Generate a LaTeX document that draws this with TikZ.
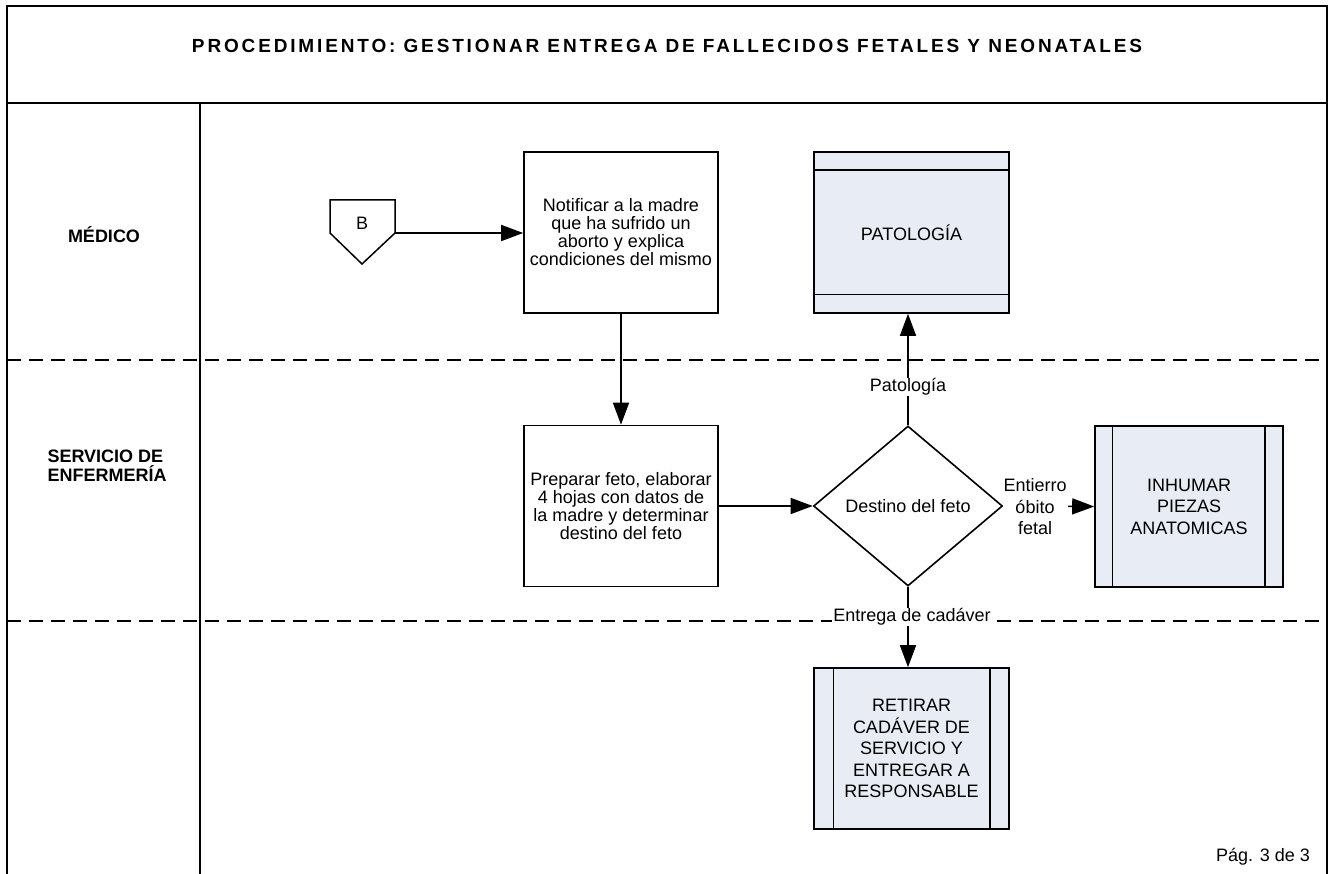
\documentclass[tikz,border=0pt]{standalone}
\usepackage{fontspec}
\setmainfont{Liberation Sans}
\usetikzlibrary{arrows.meta,shapes.geometric}
\definecolor{procfill}{RGB}{232,236,244}
\tikzset{
  every node/.style={font=\fontsize{18}{18}\selectfont},
  frame/.style={line width=1.6pt},
  lane/.style={line width=1.4pt, dash pattern=on 14pt off 8pt},
  stepbox/.style={draw, line width=1.6pt, minimum width=194pt, minimum height=161pt,
    align=center, inner sep=2pt, font=\fontsize{18}{18}\selectfont},
  subproc/.style={draw, line width=1.6pt, fill=procfill, align=center,
    font=\fontsize{18}{21.5}\selectfont},
  decision/.style={draw, line width=1.6pt, diamond, aspect=1.18, inner sep=0pt,
    minimum width=189pt, minimum height=160pt},
  flow/.style={line width=1.6pt, -{Triangle[length=22pt,width=16pt]}},
  tag/.style={fill=white, inner sep=1pt, align=center, font=\fontsize{18}{21.5}\selectfont},
  lanetitle/.style={font=\bfseries\fontsize{18}{19}\selectfont, align=left}
}
\begin{document}
\begin{tikzpicture}[x=1pt,y=-1pt]
\useasboundingbox (0,0) rectangle (1332,874);
\fill[white] (0,0) rectangle (1332,874);

% outer frame, title band and lane column
\draw[frame] (7,874) -- (7,6) -- (1327,6) -- (1327,874);
\draw[frame] (7,103) -- (1327,103);
\draw[frame] (200,103) -- (200,874);

% lane separators
\draw[lane] (7,360) -- (1327,360);
\draw[lane] (7,621) -- (1327,621);

% title and lane names
\node[font=\bfseries\fontsize{19}{19}\selectfont\addfontfeature{LetterSpace=15}] (title) at (667,46)
  {PROCEDIMIENTO: GESTIONAR ENTREGA DE FALLECIDOS FETALES Y NEONATALES};
\node[lanetitle] (lmed) at (104,235) {MÉDICO};
\node[lanetitle, anchor=west] (lenf) at (44,466) {SERVICIO DE\\ENFERMERÍA};
\node (page) at (1263,857) {Pág. 3 de 3};

% off-page connector B
\draw[line width=1.5pt] (330,200) -- (395,200) -- (395,233) -- (362,264) -- (330,233) -- cycle;
\node (B) at (362,223) {B};
\coordinate (Bout) at (395,233);

% process steps
\node[stepbox] (notif) at (621,232.5)
  {Notificar a la madre\\que ha sufrido un\\aborto y explica\\condiciones del mismo};
\node[stepbox] (prep) at (621,506)
  {Preparar feto, elaborar\\4 hojas con datos de\\la madre y determinar\\destino del feto};

% decision
\node[decision] (dest) at (908,506) {Destino del feto};

% predefined processes
\node[subproc, minimum width=195pt, minimum height=161pt] (pato) at (911.5,232.5) {PATOLOGÍA};
\draw[line width=1.4pt] ([yshift=-19pt]pato.north west) -- ([yshift=-19pt]pato.north east);
\draw[line width=1.4pt] ([yshift=19pt]pato.south west) -- ([yshift=19pt]pato.south east);

\node[subproc, minimum width=188pt, minimum height=161pt] (inhum) at (1189,506.5)
  {INHUMAR\\PIEZAS\\ANATOMICAS};
\draw[line width=1.4pt] ([xshift=18pt]inhum.north west) -- ([xshift=18pt]inhum.south west);
\draw[line width=1.4pt] ([xshift=-19pt]inhum.north east) -- ([xshift=-19pt]inhum.south east);

\node[subproc, minimum width=195pt, minimum height=161pt] (retir) at (911.5,748.5)
  {RETIRAR\\CADÁVER DE\\SERVICIO Y\\ENTREGAR A\\RESPONSABLE};
\draw[line width=1.4pt] ([xshift=20pt]retir.north west) -- ([xshift=20pt]retir.south west);
\draw[line width=1.4pt] ([xshift=-20pt]retir.north east) -- ([xshift=-20pt]retir.south east);

% connectors
\draw[flow] (Bout) -- (notif.west |- Bout);
\draw[flow] (notif.south) -- (prep.north);
\draw[flow] (prep.east) -- (dest.west);
\draw[flow] (dest.north) -- (dest.north |- pato.south);
\draw[flow] (dest.east) -- (inhum.west);
\draw[flow] (dest.south) -- (dest.south |- retir.north);

% connector labels
\node[tag] (tpat) at (908,387) {Patología};
\node[tag] (tent) at (1035,507) {Entierro\\óbito\\fetal};
\node[tag] (tcad) at (912,617) {Entrega de cadáver};
\end{tikzpicture}
\end{document}
